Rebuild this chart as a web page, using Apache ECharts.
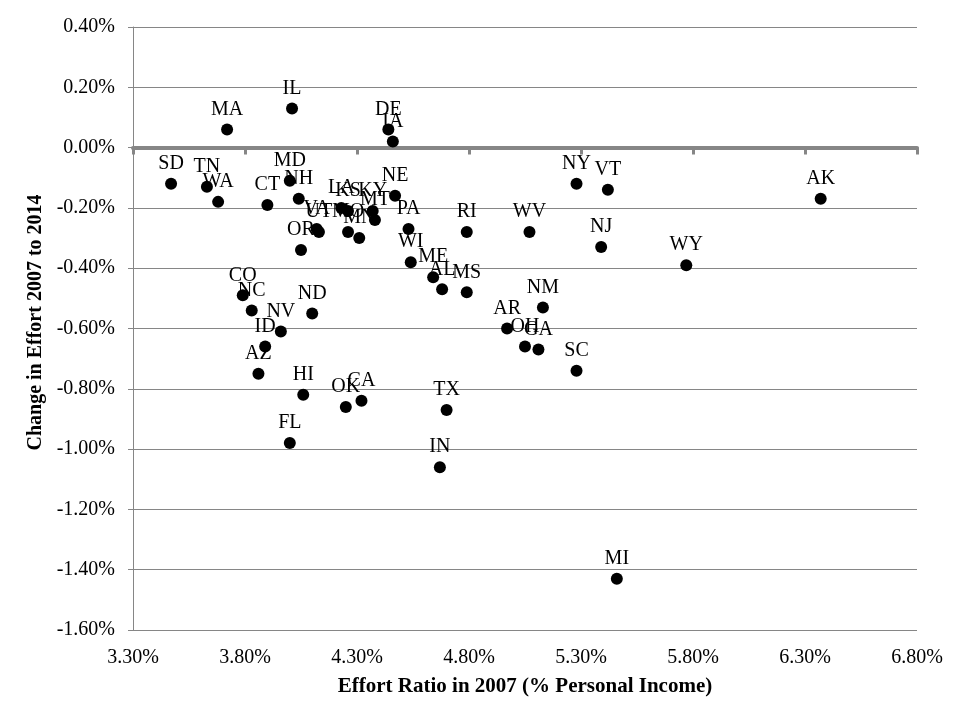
<!DOCTYPE html>
<html>
<head>
<meta charset="utf-8">
<script src="https://cdn.jsdelivr.net/npm/echarts@6/dist/echarts.min.js"></script>
<style>html,body{margin:0;padding:0;background:#fff;}#c{width:960px;height:720px;}</style>
</head>
<body>
<div id="c"></div>
<script>
const states = ['SD','TN','WA','MA','CT','MD','IL','NH','VA','UT','OR','LA','KS','KY','MT','MO','MN','DE','IA','NE','PA','RI','WI','ME','AL','MS','NM','AR','OH','GA','SC','TX','IN','NY','VT','WV','NJ','WY','AK','MI','CO','NC','NV','ND','ID','AZ','HI','OK','CA','FL'];
const effort2007 = [3.47,3.63,3.68,3.72,3.90,4.00,4.01,4.04,4.12,4.13,4.05,4.23,4.26,4.37,4.38,4.26,4.31,4.44,4.46,4.47,4.53,4.79,4.54,4.64,4.68,4.79,5.13,4.97,5.05,5.11,5.28,4.70,4.67,5.28,5.42,5.07,5.39,5.77,6.37,5.46,3.79,3.83,3.96,4.10,3.89,3.86,4.06,4.25,4.32,4.00];
const change = [-0.12,-0.13,-0.18,0.06,-0.19,-0.11,0.13,-0.17,-0.27,-0.28,-0.34,-0.20,-0.21,-0.21,-0.24,-0.28,-0.30,0.06,0.02,-0.16,-0.27,-0.28,-0.38,-0.43,-0.47,-0.48,-0.53,-0.60,-0.66,-0.67,-0.74,-0.87,-1.06,-0.12,-0.14,-0.28,-0.33,-0.39,-0.17,-1.43,-0.49,-0.54,-0.61,-0.55,-0.66,-0.75,-0.82,-0.86,-0.84,-0.98];
const xTitle = 'Effort Ratio in 2007 (% Personal Income)';
const yTitle = 'Change in Effort 2007 to 2014';

const font = "'Liberation Serif', 'Times New Roman', serif";
const gray = '#868686';
const points = states.map((s, i) => ({ name: s, value: [effort2007[i], change[i]] }));

const chart = echarts.init(document.getElementById('c'), null, { renderer: 'canvas' });
chart.setOption({
  animation: false,
  backgroundColor: '#ffffff',
  textStyle: { fontFamily: font },
  grid: { left: 133, right: 43, top: 27, bottom: 90, containLabel: false },
  xAxis: [{
    type: 'value', position: 'bottom', min: 3.3, max: 6.8, interval: 0.5,
    axisLine: { show: false, onZero: false },
    axisTick: { show: false },
    splitLine: { show: false },
    axisLabel: { color: '#000', fontFamily: font, fontSize: 20, margin: 18,
      formatter: v => v.toFixed(2) + '%' },
    name: xTitle, nameLocation: 'middle', nameGap: 46,
    nameTextStyle: { color: '#000', fontFamily: font, fontSize: 21, fontWeight: 'bold' }
  }, {
    type: 'value', position: 'top', min: 3.3, max: 6.8, interval: 0.5,
    axisLine: { show: true, onZero: true, lineStyle: { color: gray, width: 4 } },
    axisTick: { show: true, inside: true, length: 7, lineStyle: { color: gray, width: 3 } },
    splitLine: { show: false },
    axisLabel: { show: false }
  }],
  yAxis: {
    type: 'value', min: -1.6, max: 0.4, interval: 0.2,
    axisLine: { show: true, lineStyle: { color: gray, width: 1 } },
    axisTick: { show: true, length: 5, lineStyle: { color: gray } },
    splitLine: { show: true, lineStyle: { color: gray, width: 1 } },
    axisLabel: { color: '#000', fontFamily: font, fontSize: 20, margin: 18,
      formatter: v => v.toFixed(2) + '%' },
    name: yTitle, nameLocation: 'middle', nameGap: 84, nameRotate: 90,
    nameTextStyle: { color: '#000', fontFamily: font, fontSize: 20, fontWeight: 'bold', padding: [0, 0, 0, 12] }
  },
  series: [{
    type: 'scatter',
    xAxisIndex: 0,
    symbol: 'circle', symbolSize: 12,
    itemStyle: { color: '#000', opacity: 1 },
    data: points,
    label: { show: true, position: 'top', distance: 4, formatter: p => p.name,
      color: '#000', fontFamily: font, fontSize: 20 }
  }]
});
</script>
</body>
</html>
